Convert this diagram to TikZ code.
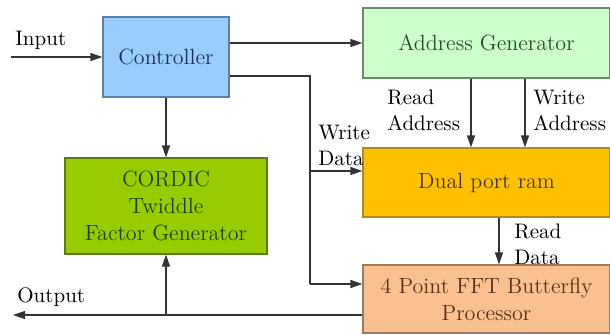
\documentclass[tikz,border=0pt]{standalone}
\usetikzlibrary{arrows.meta,calc}
\definecolor{ctrlfill}{HTML}{99CCFF}
\definecolor{ctrlline}{HTML}{5A7FA8}
\definecolor{ctrltext}{HTML}{1A3060}
\definecolor{addrfill}{HTML}{CCFFCC}
\definecolor{addrline}{HTML}{6A8A6A}
\definecolor{addrtext}{HTML}{264E26}
\definecolor{cordfill}{HTML}{99CC00}
\definecolor{cordline}{HTML}{5E7A10}
\definecolor{cordtext}{HTML}{223C00}
\definecolor{dualfill}{HTML}{FFC000}
\definecolor{dualline}{HTML}{B08A20}
\definecolor{dualtext}{HTML}{4A3300}
\definecolor{fftfill}{HTML}{FAC090}
\definecolor{fftline}{HTML}{A07A5A}
\definecolor{ffttext}{HTML}{5A3015}
\definecolor{wire}{HTML}{333333}
\begin{document}
\begin{tikzpicture}[x=0.5pt,y=-0.5pt,
  font=\fontsize{11}{13.5}\selectfont,
  box/.style={draw, line width=0.6pt, inner sep=0pt, align=center},
  lbl/.style={inner sep=0pt, align=left, anchor=west, font=\fontsize{10.5}{13}\selectfont},
  wireline/.style={draw=wire, line width=0.6pt},
  arr/.style={wireline, -{Triangle[length=6pt,width=4pt]}}]
\useasboundingbox (0,0) rectangle (610,334);
\node[box, fill=ctrlfill, draw=ctrlline, text=ctrltext, minimum width=63pt, minimum height=40pt] (ctrl) at (166,57) {Controller};
\node[box, fill=addrfill, draw=addrline, text=addrtext, minimum width=123.5pt, minimum height=35pt] (addr) at (486.5,43) {Address Generator};
\node[box, fill=dualfill, draw=dualline, text=dualtext, minimum width=123.5pt, minimum height=34.5pt] (dual) at (486.5,182.5) {Dual port ram};
\node[box, fill=fftfill, draw=fftline, text=ffttext, minimum width=123.5pt, minimum height=34pt] (fft) at (486.5,299) {4 Point FFT Butterfly\\Processor};
\node[box, fill=cordfill, draw=cordline, text=cordtext, minimum width=101pt, minimum height=48pt] (cord) at (166,206) {CORDIC\\Twiddle\\Factor Generator};
% labels
\node[lbl] (linput) at (15,40) {Input};
\node[lbl] (loutput) at (17,297) {Output};
\node[lbl] (lra) at (387,110) {Read\\Address};
\node[lbl] (lwa) at (533,110) {Write\\Address};
\node[lbl] (lwd) at (318,145) {Write\\Data};
\node[lbl] (lrd) at (514,244) {Read\\Data};
% coordinates
\coordinate (in) at (11,57);
\coordinate (bus) at (310,76);
\coordinate (bdual) at (310,171);
\coordinate (bfft) at (310,284);
\coordinate (ra) at (471,0);
\coordinate (wa) at (525,0);
\coordinate (rd) at (499,0);
\coordinate (out) at (13,315);
\coordinate (tap) at (166,315);
% connectors
\draw[arr] (in) -- (ctrl.west);
\draw[arr] (ctrl.east |- addr.west) -- (addr.west);
\draw[wireline] (ctrl.east |- bus) -- (bus) -- (bfft);
\draw[arr] (bdual) -- (dual.west |- bdual);
\draw[arr] (bfft) -- (fft.west |- bfft);
\draw[arr] (addr.south -| ra) -- (dual.north -| ra);
\draw[arr] (addr.south -| wa) -- (dual.north -| wa);
\draw[arr] (dual.south -| rd) -- (fft.north -| rd);
\draw[arr] (ctrl.south) -- (cord.north);
\draw[arr] (fft.west |- out) -- (out);
\draw[arr] (tap) -- (cord.south);
\end{tikzpicture}
\end{document}
